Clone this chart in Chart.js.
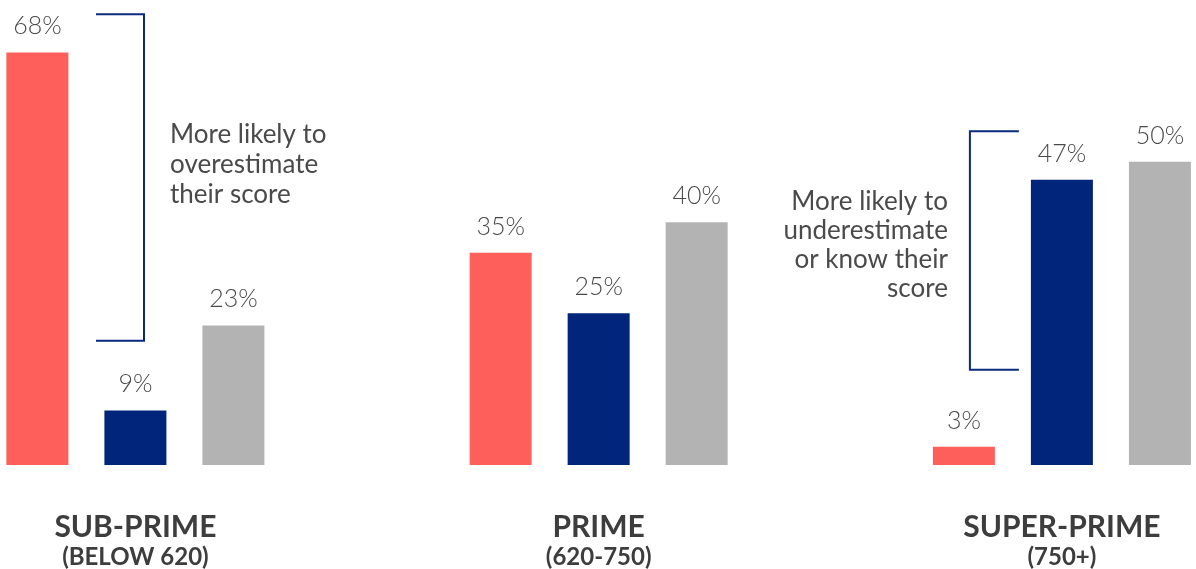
<!DOCTYPE html>
<html>
<head>
<meta charset="utf-8">
<script src="https://cdn.jsdelivr.net/npm/chart.js@4.4.1/dist/chart.umd.min.js"></script>
<style>
  html, body { margin: 0; padding: 0; background: #ffffff; }
  #wrap { width: 1196px; height: 569px; position: relative; }
</style>
</head>
<body>
<div id="wrap"><canvas id="c" width="1196" height="569"></canvas></div>
<script>
// ---- data ----
const groupTitles = ['SUB-PRIME', 'PRIME', 'SUPER-PRIME'];
const groupRanges = ['(BELOW 620)', '(620-750)', '(750+)'];
const overestimate = [68, 35, 3];
const accurate = [9, 25, 47];
const underestimate = [23, 40, 50];
const seriesColors = ['#FF5F5A', '#00257A', '#B3B3B3'];

// annotation brackets: [category index, top value, bottom value]
const bracketNotes = [
  { cat: 0, top: 74.3, bottom: 20.5, lines: ['More likely to', 'overestimate', 'their score'] },
  { cat: 2, top: 55.0, bottom: 15.7, lines: ['More likely to', 'underestimate', 'or know their', 'score'] }
];

const TEXT = '#4a4a4a';
const NAVY = '#0b2a7f';

const labelsPlugin = {
  id: 'customLabels',
  afterDatasetsDraw(chart) {
    const ctx = chart.ctx;
    ctx.save();
    // value labels
    ctx.fillStyle = TEXT;
    ctx.font = '300 25px Lato';
    ctx.textAlign = 'center';
    ctx.textBaseline = 'alphabetic';
    chart.data.datasets.forEach((ds, di) => {
      const meta = chart.getDatasetMeta(di);
      meta.data.forEach((bar, i) => {
        ctx.fillText(ds.data[i] + '%', bar.x, bar.y - 18);
      });
    });
    // category labels
    const xs = chart.scales.x;
    groupTitles.forEach((t, i) => {
      const x = xs.getPixelForTick(i);
      ctx.fillStyle = '#3d3d3d';
      ctx.font = 'bold 30px Lato';
      ctx.fillText(t, x, 537);
      ctx.font = 'bold 24px Lato';
      ctx.fillText(groupRanges[i], x, 565);
    });
    // brackets
    const ys = chart.scales.y;
    ctx.strokeStyle = NAVY;
    ctx.lineWidth = 2;
    bracketNotes.forEach((b, k) => {
      const cx = xs.getPixelForTick(b.cat);
      const yt = ys.getPixelForValue(b.top);
      const yb = ys.getPixelForValue(b.bottom);
      ctx.beginPath();
      if (k === 0) {
        const vx = cx + 8.6;
        ctx.moveTo(cx - 39.4, yt); ctx.lineTo(vx, yt); ctx.lineTo(vx, yb); ctx.lineTo(cx - 39.4, yb);
      } else {
        const vx = cx - 92;
        ctx.moveTo(cx - 43, yt); ctx.lineTo(vx, yt); ctx.lineTo(vx, yb); ctx.lineTo(cx - 43, yb);
      }
      ctx.stroke();
      ctx.fillStyle = TEXT;
      ctx.font = '400 26px Lato';
      if (k === 0) {
        ctx.textAlign = 'left';
        b.lines.forEach((ln, j) => ctx.fillText(ln, cx + 34.6, 143 + j * 30));
      } else {
        ctx.textAlign = 'right';
        b.lines.forEach((ln, j) => ctx.fillText(ln, cx - 114, 210 + j * 29));
      }
      ctx.textAlign = 'center';
    });
    ctx.restore();
  }
};

new Chart(document.getElementById('c'), {
  type: 'bar',
  data: {
    labels: groupTitles,
    datasets: [
      { data: overestimate, backgroundColor: seriesColors[0], clip: false },
      { data: accurate, backgroundColor: seriesColors[1], clip: false },
      { data: underestimate, backgroundColor: seriesColors[2], clip: false }
    ]
  },
  options: {
    responsive: false,
    animation: false,
    layout: { padding: { left: 135.4, right: 134.1, top: 10, bottom: 104 } },
    categoryPercentage: 0.6347,
    barPercentage: 0.6327,
    plugins: { legend: { display: false }, tooltip: { enabled: false } },
    scales: {
      x: { display: false, offset: false },
      y: { display: false, min: 0, max: 75 }
    }
  },
  plugins: [labelsPlugin]
});
</script>
</body>
</html>
